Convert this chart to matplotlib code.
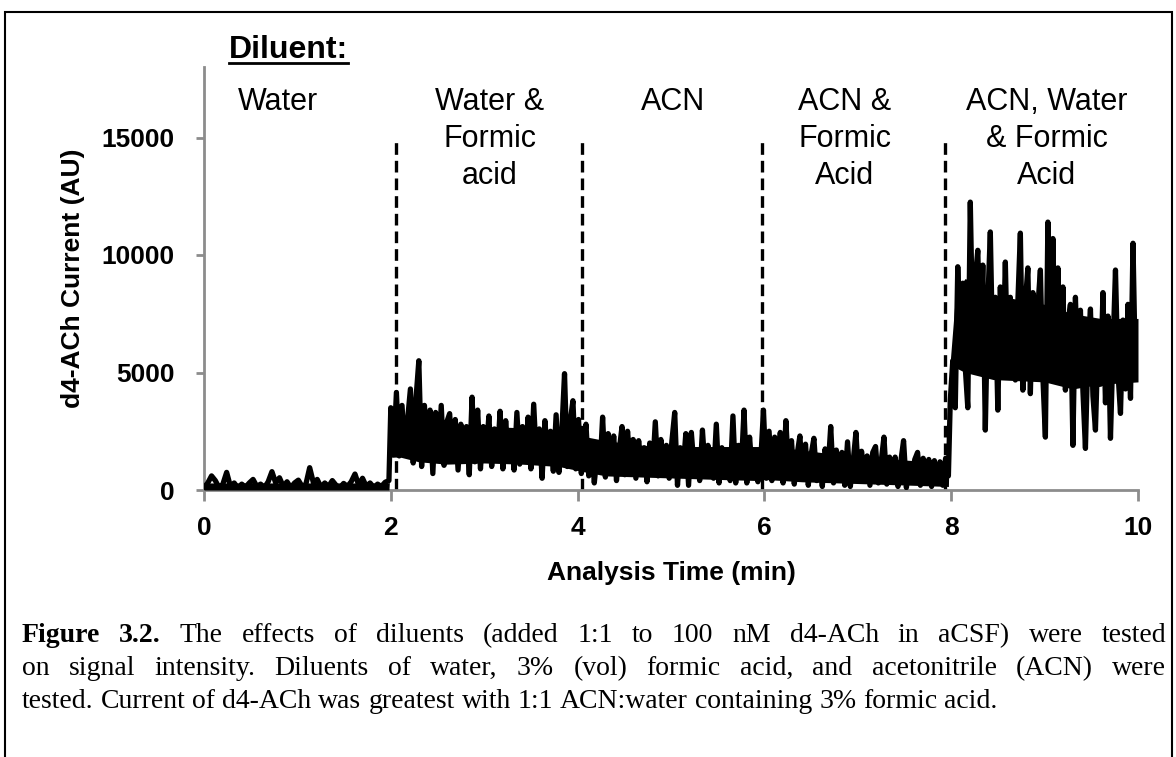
import numpy as np
import matplotlib
matplotlib.use("Agg")
import matplotlib.pyplot as plt
from matplotlib.patches import Rectangle
from matplotlib.lines import Line2D

# d4-ACh current, one list per diluent segment
seg_times = [(0.0, 1.98), (2.0, 4.04), (4.06, 5.96), (5.99, 7.97), (7.99, 10.0)]

water = [100, 300, 600, 400, 100, 250, 750, 150, 300, 80, 250, 120, 300, 450, 150, 250,
         100, 350, 780, 300, 520, 150, 350, 100, 300, 420, 150, 250, 950, 300, 450, 120,
         300, 150, 400, 200, 100, 280, 150, 350, 680, 200, 500, 150, 300, 100, 250, 150,
         330, 400]
water_fa = [3500, 1500, 4150, 1450, 3600, 1700, 3000, 4300, 1150, 3900, 5500, 1000, 3600,
            1600, 3400, 700, 3300, 1300, 3600, 1050, 2900, 3250, 1400, 3000, 850, 2800, 1500,
            2700, 650, 3950, 1200, 3400, 900, 2700, 1500, 3150, 1000, 2600, 1300, 3350, 900,
            2950, 1400, 2500, 850, 3300, 1100, 2700, 1300, 3100, 900, 3650, 1200, 2600, 500,
            2950, 1300, 2500, 800, 3200, 750, 2400, 4950, 1000, 2900, 3800, 900, 3000, 700]
acn = [1800, 2800, 600, 2000, 300, 1500, 800, 3100, 550, 2400, 900, 2300, 400, 1700, 2700,
       650, 2500, 1000, 2150, 500, 2100, 900, 1800, 350, 2000, 800, 2900, 600, 2150, 1000,
       1900, 500, 2100, 3300, 200, 1800, 800, 2400, 200, 2450, 900, 1700, 400, 2550, 800,
       1900, 1100, 500, 2800, 300, 1800, 900, 1500, 400, 3150, 300, 1900, 900, 3400, 300,
       2250, 700, 1600, 350, 1200]
acn_fa = [3400, 500, 2500, 400, 2250, 800, 2450, 300, 2950, 700, 2100, 250, 1500, 2300, 500,
          1950, 200, 1500, 2200, 400, 1300, 150, 1750, 800, 2700, 300, 1700, 600, 1600, 200,
          2050, 150, 1200, 2450, 400, 1650, 700, 1450, 200, 1600, 1850, 300, 1200, 2250, 250,
          1400, 600, 1400, 150, 1200, 2100, 100, 1000, 500, 1300, 1600, 200, 1350, 400, 1300,
          150, 1250, 300, 1200, 200, 1350, 600]
acn_water_fa = [3800, 5500, 3500, 9500, 5800, 8800, 5200, 3500, 12250, 6500, 9000, 10200,
                5800, 9570, 2550, 8000, 10980, 5500, 8200, 3400, 8640, 5200, 9700, 4800, 8200,
                5400, 4680, 8000, 10930, 4250, 8000, 9450, 4100, 8400, 5000, 7800, 9360, 4800,
                2250, 11400, 6000, 10700, 5200, 9450, 4600, 8640, 4250, 7000, 7900, 1900, 8200,
                4800, 7650, 4200, 1770, 6000, 7700, 4000, 2550, 6240, 4500, 8400, 3710, 7400,
                2200, 6000, 9360, 5000, 3260, 7230, 4300, 7900, 3900, 10500, 4800, 7000]

segments = [water, water_fa, acn, acn_fa, acn_water_fa]

# solid core of the noisy trace (lower / upper edge of the dense band)
band_t = [0.0, 0.5, 1.0, 1.5, 1.98, 2.0, 2.1, 2.3, 2.6, 3.0, 3.4, 3.8, 4.04, 4.3, 4.7, 5.1,
          5.5, 5.96, 6.0, 6.4, 6.8, 7.2, 7.6, 7.97, 7.99, 8.05, 8.15, 8.45, 9.0, 9.3, 9.6, 10.0]
band_lo = [0, 0, 0, 0, 0, 1400, 1400, 1200, 1100, 1150, 1100, 1000, 800, 600, 550, 500,
           450, 400, 450, 350, 300, 250, 200, 150, 3500, 5200, 5000, 4700, 4600, 4300, 4500, 4600]
band_hi = [300, 300, 300, 300, 300, 3300, 3200, 3000, 2800, 2700, 2650, 2500, 2300, 2100, 1900,
           1850, 1850, 1850, 1900, 1700, 1500, 1350, 1250, 1150, 5500, 8500, 9000, 8300, 7900,
           7500, 7300, 7300]

# where the diluent was switched (dashed markers)
switch_times = [2.06, 4.05, 5.97, 7.93]
switch_top = 14800

labels = ["Water", "Water &\nFormic\nacid", "ACN", "ACN &\nFormic\nAcid", "ACN, Water\n& Formic\nAcid"]
label_x = [0.79, 3.06, 5.02, 6.86, 9.02]

t_all = np.concatenate([np.linspace(a, b, len(v)) for (a, b), v in zip(seg_times, segments)])
y_all = np.concatenate([np.array(v, dtype=float) for v in segments])

W, H = 1176, 757
fig = plt.figure(figsize=(W / 100, H / 100), dpi=100)
fig.patch.set_facecolor("white")

# border around the whole figure block
fig.patches.append(Rectangle((5 / W, -0.05), 1167 / W, (H - 12) / H + 0.05,
                             transform=fig.transFigure, fill=False, lw=1.5, ec="black"))

ax = fig.add_axes([204 / W, (H - 490) / H, 934 / W, 423 / H])
ax.set_xlim(0, 10)
ax.set_ylim(0, 18000)

gray = "#8c8c8c"
for s in ["top", "right"]:
    ax.spines[s].set_visible(False)
for s in ["left", "bottom"]:
    ax.spines[s].set_color(gray)
    ax.spines[s].set_linewidth(2)

ax.set_xticks([0, 2, 4, 6, 8, 10])
ax.set_yticks([0, 5000, 10000, 15000])
ax.tick_params(axis="x", direction="out", length=8, width=2, color=gray, pad=11)
ax.tick_params(axis="y", direction="out", length=6, width=2, color=gray, pad=15)
for lab in ax.get_xticklabels() + ax.get_yticklabels():
    lab.set_fontfamily("Liberation Sans")
    lab.set_fontweight("bold")
    lab.set_fontsize(19)

ax.vlines(switch_times, 0, switch_top, colors="black", linestyles=(0, (3.5, 1.8)), lw=2.4, zorder=2)
ax.fill_between(band_t, band_lo, band_hi, color="black", lw=0, zorder=3)
ax.plot(t_all, y_all, color="black", lw=3.8, solid_joinstyle="round", zorder=3)

for txt, x in zip(labels, label_x):
    ax.text(x, 17150, txt, ha="center", va="top", fontsize=22, family="Liberation Sans",
            linespacing=1.3)

ax.set_xlabel("Analysis Time (min)", fontsize=19, fontweight="bold", family="Liberation Sans",
              labelpad=15)
ax.set_ylabel("d4-ACh Current (AU)", fontsize=19, fontweight="bold", family="Liberation Sans",
              labelpad=12)

# underlined "Diluent:" heading
dil = fig.text(229 / W, (H - 58) / H, "Diluent:", fontsize=23, fontweight="bold",
               family="Liberation Sans", va="baseline")
fig.canvas.draw()
r = fig.canvas.get_renderer()
bb = dil.get_window_extent(r)
fig.lines.append(Line2D([bb.x0 / W, bb.x1 / W], [(H - 63) / H] * 2, transform=fig.transFigure,
                        color="black", lw=2))

# caption, justified like the document text
caption = [
    [("Figure", "bold"), ("3.2.", "bold"), ("The", "normal"), ("effects", "normal"), ("of", "normal"),
     ("diluents", "normal"), ("(added", "normal"), ("1:1", "normal"), ("to", "normal"),
     ("100", "normal"), ("nM", "normal"), ("d4-ACh", "normal"), ("in", "normal"),
     ("aCSF)", "normal"), ("were", "normal"), ("tested", "normal")],
    [(w, "normal") for w in "on signal intensity. Diluents of water, 3% (vol) formic acid, and acetonitrile (ACN) were".split()],
    [(w, "normal") for w in "tested. Current of d4-ACh was greatest with 1:1 ACN:water containing 3% formic acid.".split()],
]
x0, x1 = 22, 1166
base = [642, 675, 708]
cap_size = 20
for i, line in enumerate(caption):
    objs = [fig.text(0, (H - base[i]) / H, w, fontsize=cap_size, fontweight=wt,
                     family="Liberation Serif", va="baseline") for w, wt in line]
    widths = [o.get_window_extent(r).width for o in objs]
    if i < 2:
        gap = (x1 - x0 - sum(widths)) / (len(objs) - 1)
    else:
        gap = 0.25 * cap_size * 100 / 72
    x = x0
    for o, w in zip(objs, widths):
        o.set_x(x / W)
        x += w + gap

fig.savefig("out.png", dpi=100)
